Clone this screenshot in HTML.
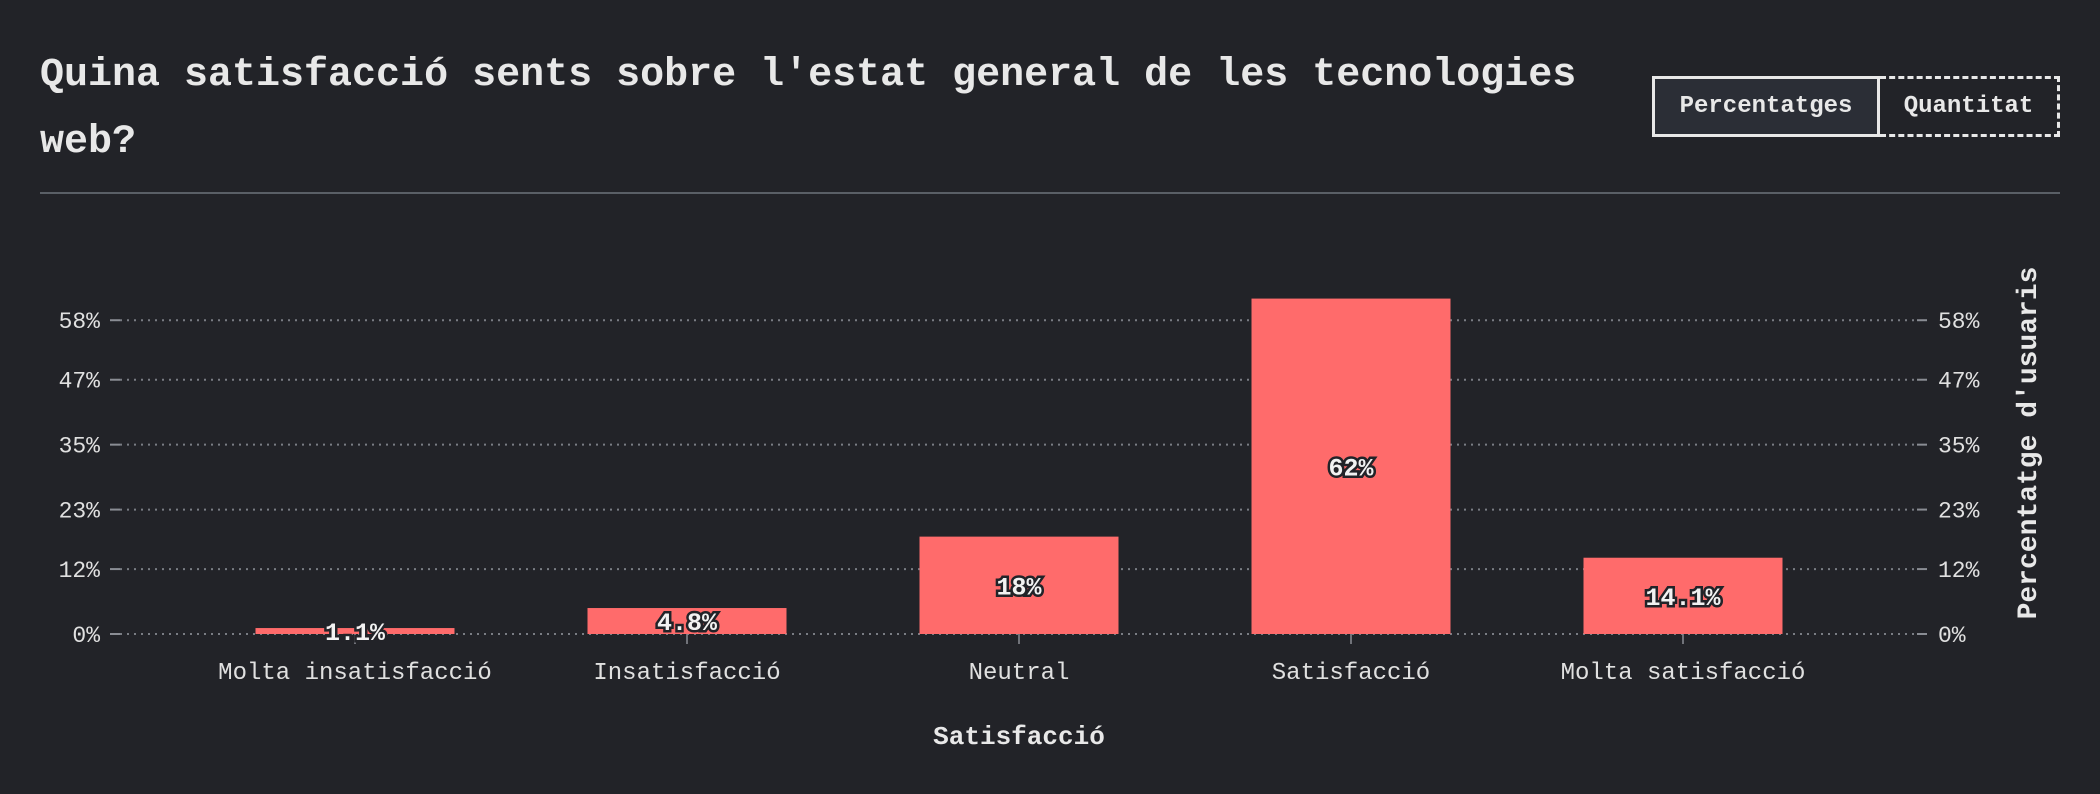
<!DOCTYPE html>
<html><head><meta charset="utf-8"><style>
html,body{margin:0;padding:0;background:#222328;}
body{width:2100px;height:794px;overflow:hidden;position:relative;font-family:"Liberation Mono",monospace;color:#e8e8e8;}
.title{position:absolute;left:40px;top:42px;width:1600px;font-size:40px;font-weight:bold;line-height:67px;margin:0;}
.btns{position:absolute;left:1652px;top:76px;display:flex;height:61px;}
.btn{box-sizing:border-box;height:61px;font-family:"Liberation Mono",monospace;font-weight:bold;font-size:24px;color:#e8e8e8;display:flex;align-items:center;justify-content:center;}
.b1{width:228px;background:#2b2e36;border:3px solid #e8e8e8;}
.b2{width:180px;background:transparent;border:3px dashed #e8e8e8;border-left:none;}
.rule{position:absolute;left:40px;top:192px;width:2020px;height:2px;background:#5a5f66;}
svg{position:absolute;left:0;top:0;}
</style></head><body>
<h1 class="title">Quina satisfacció sents sobre l'estat general de les tecnologies web?</h1>
<div class="btns">
<div class="btn b1">Percentatges</div>
<div class="btn b2">Quantitat</div>
</div>
<div class="rule"></div>
<svg id="chart" width="2100" height="794"></svg>
<script>
const categories=["Molta insatisfacció","Insatisfacció","Neutral","Satisfacció","Molta satisfacció"];
const values=[1.1,4.8,18,62,14.1];
const valueLabels=["1.1%","4.8%","18%","62%","14.1%"];
const tickValues=[0,12,23,35,47,58];
const tickLabels=["0%","12%","23%","35%","47%","58%"];

const NS="http://www.w3.org/2000/svg";
const svg=document.getElementById('chart');
const plotL=120,plotR=1917,y0=634,pxPer=5.41;
const step=332,firstC=355,barW=199;
const y=v=>y0-v*pxPer;
const x=i=>firstC+i*step;
function mk(tag,attrs,parent){const e=document.createElementNS(NS,tag);for(const k in attrs)e.setAttribute(k,attrs[k]);(parent||svg).appendChild(e);return e;}

tickValues.forEach((t,i)=>{
  const yy=y(t);
  const g=mk('line',{x1:plotL,x2:plotR,y1:yy,y2:yy,stroke:'#7a7d84','stroke-width':2,'stroke-dasharray':'2 5'});
  
  
  const tl=mk('line',{x1:110,x2:120,y1:yy,y2:yy,stroke:'#8a8d94','stroke-width':2});
  
  
  const tr=mk('line',{x1:plotR,x2:plotR+10,y1:yy,y2:yy,stroke:'#8a8d94','stroke-width':2});
  
  
  const l=mk('text',{x:100,y:yy+8,'text-anchor':'end','font-size':23,fill:'#e0e0e0','font-family':'Liberation Mono, monospace'});
  l.textContent=tickLabels[i];
  
  
  const r=mk('text',{x:1938,y:yy+8,'text-anchor':'start','font-size':23,fill:'#e0e0e0','font-family':'Liberation Mono, monospace'});
  r.textContent=tickLabels[i];
  
  
});

categories.forEach((c,i)=>{
  const cx=x(i);
  const top=y(values[i]);
  const b=mk('rect',{x:cx-barW/2,y:top,width:barW,height:y0-top,fill:'#ff6b6b'});
  
  
  const tk=mk('line',{x1:cx,x2:cx,y1:y0,y2:y0+10,stroke:'#8a8d94','stroke-width':1.5});
  
  
  const cl=mk('text',{x:cx,y:679,'text-anchor':'middle','font-size':24,fill:'#e0e0e0','font-family':'Liberation Mono, monospace'});
  cl.textContent=c;
  
  
  const vl=mk('text',{x:cx,y:(top+y0)/2+9,'text-anchor':'middle','font-size':25,'font-weight':'bold',fill:'#f2f2f2',stroke:'#222328','stroke-width':5,'paint-order':'stroke','font-family':'Liberation Mono, monospace'});
  vl.textContent=valueLabels[i];
  
  
});

const xt=mk('text',{x:1019,y:744,'text-anchor':'middle','font-size':26,'font-weight':'bold',fill:'#e8e8e8','font-family':'Liberation Mono, monospace'});
xt.textContent='Satisfacció';


const yt=mk('text',{x:0,y:0,'text-anchor':'middle','font-size':28,'font-weight':'bold',fill:'#e8e8e8','font-family':'Liberation Mono, monospace',transform:'translate(2036,443) rotate(-90)'});
yt.textContent="Percentatge d'usuaris";


</script>
</body></html>
